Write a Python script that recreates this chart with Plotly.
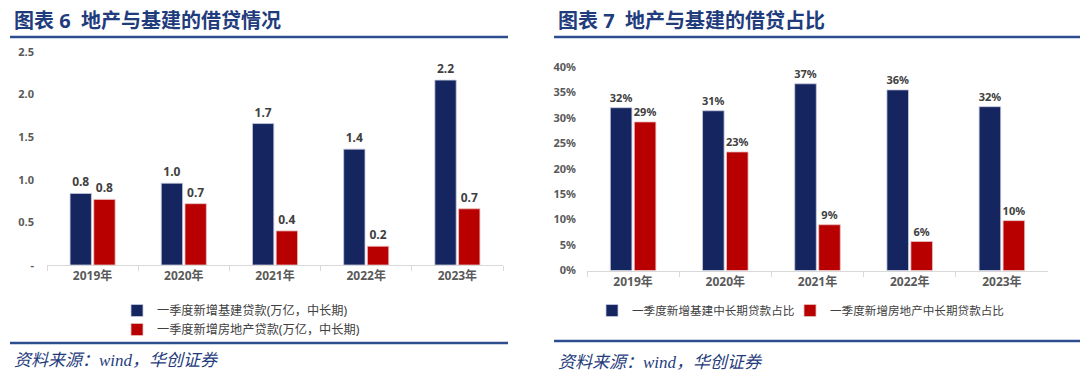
import plotly.graph_objects as go

years = ["2019年", "2020年", "2021年", "2022年", "2023年"]
infra_loans = [0.84, 0.96, 1.66, 1.36, 2.17]
estate_loans = [0.77, 0.72, 0.40, 0.22, 0.66]
infra_share = [0.320, 0.314, 0.367, 0.355, 0.322]
estate_share = [0.292, 0.233, 0.090, 0.057, 0.098]

left_yticks = [0, 0.5, 1.0, 1.5, 2.0, 2.5]
left_yticktext = ["-", "0.5", "1.0", "1.5", "2.0", "2.5"]
right_yticks = [0, 0.05, 0.10, 0.15, 0.20, 0.25, 0.30, 0.35, 0.40]

name_l1 = "一季度新增基建贷款(万亿，中长期)"
name_l2 = "一季度新增房地产贷款(万亿，中长期)"
name_r1 = "一季度新增基建中长期贷款占比"
name_r2 = "一季度新增房地产中长期贷款占比"

NAVY = "#15255f"
RED = "#b80000"
LINE = "#2c4d8e"
TITLE = "#1f3c7d"
FONT = "Noto Sans, Noto Sans CJK SC, sans-serif"
H = 381.0

def py(p):
    return 1 - p / H

fig = go.Figure()

def bar(y, name, color, lcolor, text, size, xa, ya, leg):
    return go.Bar(x=years, y=y, name=name, marker_color=color,
                  marker_line=dict(color=lcolor, width=0.8),
                  text=text, textposition="outside",
                  textfont=dict(size=size, color="#404040", family=FONT, weight="bold"),
                  constraintext="none", cliponaxis=False,
                  xaxis=xa, yaxis=ya, legend=leg)

fig.add_trace(bar(infra_loans, name_l1, NAVY, "#c8cbe0",
                  [f"{v:.1f}" for v in infra_loans], 12, "x", "y", "legend"))
fig.add_trace(bar(estate_loans, name_l2, RED, "#e8c0c0",
                  [f"{v:.1f}" for v in estate_loans], 12, "x", "y", "legend"))
fig.add_trace(bar(infra_share, name_r1, NAVY, "#c8cbe0",
                  [f"{v*100:.0f}%" for v in infra_share], 11, "x2", "y2", "legend2"))
fig.add_trace(bar(estate_share, name_r2, RED, "#e8c0c0",
                  [f"{v*100:.0f}%" for v in estate_share], 11, "x2", "y2", "legend3"))

xcommon = dict(type="category", range=[-0.5, 4.5], showline=True, linecolor="#d9d9d9",
               linewidth=1, ticks="outside", tickson="boundaries", ticklen=5,
               tickcolor="#d9d9d9", showgrid=False, zeroline=False, automargin=False,
               tickfont=dict(size=12, color="#595959", family=FONT, weight="bold"))

legcommon = dict(xanchor="left", yanchor="top", bgcolor="rgba(0,0,0,0)",
                 tracegroupgap=0, itemwidth=30)

fig.update_layout(
    width=1080, height=381,
    margin=dict(l=0, r=0, t=0, b=0, pad=0, autoexpand=False),
    paper_bgcolor="white", plot_bgcolor="white",
    barmode="group", bargap=0.48, bargroupgap=0.1,
    font=dict(family=FONT),
    xaxis=dict(domain=[47/1080, 503/1080], anchor="y", **xcommon),
    yaxis=dict(domain=[py(265), py(52)], anchor="x", range=[0, 2.5],
               tickvals=left_yticks, ticktext=left_yticktext, showgrid=False,
               zeroline=False, showline=False, ticks="", ticklabelstandoff=12,
               automargin=False,
               tickfont=dict(size=11, color="#595959", family=FONT, weight="bold")),
    xaxis2=dict(domain=[587/1080, 1048/1080], anchor="y2", **xcommon),
    yaxis2=dict(domain=[py(270.5), py(67)], anchor="x2", range=[0, 0.4],
                tickvals=right_yticks, tickformat=".0%", showgrid=False,
                zeroline=False, showline=False, ticks="", ticklabelstandoff=10,
                automargin=False,
                tickfont=dict(size=11, color="#595959", family=FONT, weight="bold")),
    legend=dict(x=117/1080, y=py(296), orientation="v",
                font=dict(size=12.2, color="#404040", family=FONT), **legcommon),
    legend2=dict(x=592/1080, y=py(296), orientation="h",
                 font=dict(size=11.6, color="#404040", family=FONT), **legcommon),
    legend3=dict(x=790/1080, y=py(296), orientation="h",
                 font=dict(size=11.6, color="#404040", family=FONT), **legcommon),
    showlegend=True,
)

for x0, x1, y in [(10, 508, 37), (10, 508, 343), (554, 1080, 37), (554, 1080, 341)]:
    fig.add_shape(type="line", xref="paper", yref="paper", x0=x0/1080, x1=x1/1080,
                  y0=py(y), y1=py(y), line=dict(color=LINE, width=2.5))

titles = [(12, "图表 6  地产与基建的借贷情况"), (556, "图表 7  地产与基建的借贷占比")]
for x, t in titles:
    fig.add_annotation(text=t, xref="paper", yref="paper", x=x/1080, y=py(20),
                       xanchor="left", yanchor="middle", showarrow=False,
                       font=dict(size=20, color=TITLE, family=FONT, weight="bold"))

for x, y in [(12, 360), (556, 362)]:
    fig.add_annotation(text="资料来源：wind，华创证券", xref="paper", yref="paper",
                       x=x/1080, y=py(y), xanchor="left", yanchor="middle", showarrow=False,
                       font=dict(size=17, color=TITLE,
                                 family="Liberation Serif, Noto Sans CJK SC, serif",
                                 style="italic"))

fig.write_html(
    "out.html",
    config={"displayModeBar": False},
    post_script=(
        "document.documentElement.style.margin='0';"
        "document.body.style.margin='0';"
        "document.documentElement.style.overflow='hidden';"
        "document.body.style.overflow='hidden';"
        "var d=document.getElementById('{plot_id}');"
        "d.style.position='fixed';d.style.top='0px';d.style.left='0px';"
    ),
)
